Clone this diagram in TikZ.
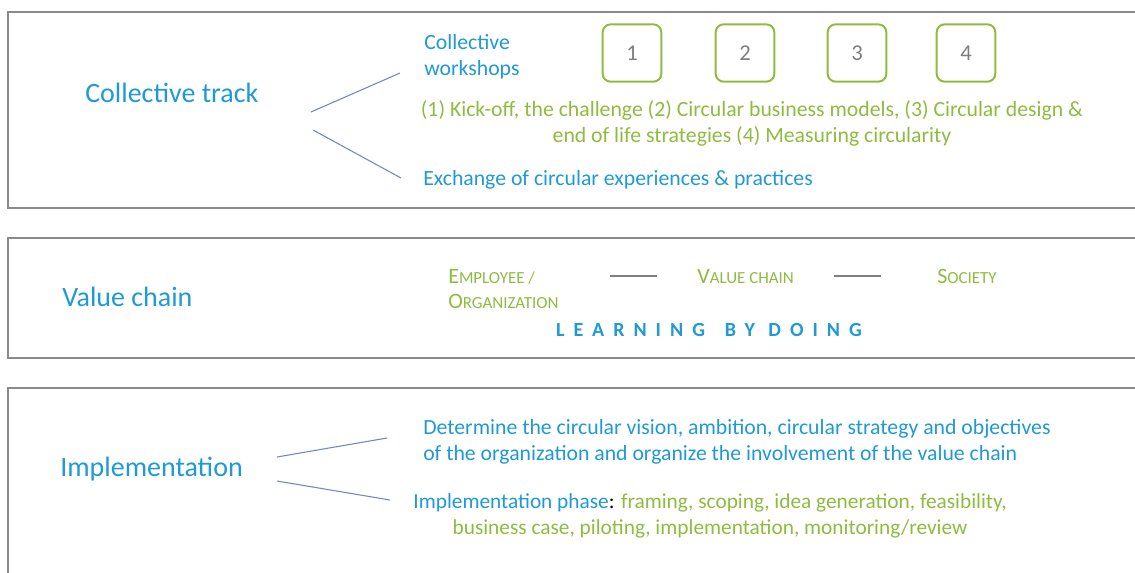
\documentclass[tikz,border=0pt]{standalone}
\usepackage{fontspec}
\setmainfont{Carlito}
\newfontfamily\spacedfont[LetterSpace=45]{Carlito}
\usepackage{xcolor}
\usetikzlibrary{positioning}

\definecolor{ctblue}{HTML}{1F9AD6}
\definecolor{ctgreen}{HTML}{8FBC3F}
\definecolor{ctgray}{HTML}{7F7F7F}
\definecolor{ctframe}{HTML}{8A8A8A}
\definecolor{ctline}{HTML}{7088C0}

% fake small caps: capital, then the rest smaller
\newcommand{\smcap}[2]{{\fontsize{16.5}{18.75}\selectfont #1}{\fontsize{12.7}{18.75}\selectfont #2}}

\begin{document}
\begin{tikzpicture}[x=0.75pt,y=-0.75pt,
    panel/.style={draw=ctframe,line width=1.5pt},
    title/.style={text=ctblue,font=\fontsize{21}{24}\selectfont,anchor=west,inner sep=0pt},
    body/.style={font=\fontsize{16.3}{19.5}\selectfont,inner sep=0pt},
    numbox/.style={draw=ctgreen,line width=1.5pt,rounded corners=6pt,
        minimum width=44pt,minimum height=43pt,text=ctgray,font=\fontsize{17}{20}\selectfont},
    chainlbl/.style={text=ctgreen,inner sep=0pt,font=\fontsize{12.7}{18.75}\selectfont},
    branch/.style={draw=ctline,line width=0.8pt},
    linkbar/.style={draw=ctgray,line width=1.5pt}]
	\clip (0,0) rectangle (1135,572);
	\fill[white] (0,0) rectangle (1135,572);

	% the three panels
	\draw[panel] (8,12) rectangle (1150,208);
	\draw[panel] (8,238) rectangle (1150,358);
	\draw[panel] (8,388) rectangle (1150,600);

	% collective track
	\node[title] (ct) at (85,93) {Collective track};
	\node[body,text=ctblue,align=left,anchor=west] (ws) at (424,57) {Collective\\workshops};
	\foreach \n/\x in {1/632,2/745,3/857,4/966} {
		\node[numbox] (w\n) at (\x,53) {\n};
	}
	\node[body,text=ctgreen,align=center] (wsdesc) at (752,123)
		{(1) Kick-off, the challenge (2) Circular business models, (3) Circular design \&\\end of life strategies (4) Measuring circularity};
	\node[body,text=ctblue,anchor=west] (ex) at (423,180) {Exchange of circular experiences \& practices};
	\coordinate (ct-up) at (311,112);
	\coordinate (ct-dn) at (313,130);
	\coordinate (ws-in) at (400,73);
	\coordinate (ex-in) at (401,178);
	\draw[branch] (ct-up) -- (ws-in);
	\draw[branch] (ct-dn) -- (ex-in);

	% value chain
	\node[title] (vc) at (62,297) {Value chain};
	\node[chainlbl,align=left,anchor=west] (eo) at (448,289) {\smcap{E}{MPLOYEE /}\\\smcap{O}{RGANIZATION}};
	\node[chainlbl,anchor=west] (vcn) at (697,276) {\smcap{V}{ALUE CHAIN}};
	\node[chainlbl,anchor=west] (soc) at (937,276) {\smcap{S}{OCIETY}};
	\draw[linkbar] ([xshift=-30pt]vcn.west) -- ([xshift=-65pt]vcn.west);
	\draw[linkbar] ([xshift=30pt]vcn.east) -- ([xshift=65pt]vcn.east);
	\node[text=ctblue,font=\spacedfont\bfseries\fontsize{15}{17}\selectfont] (lbd) at (709,330) {LEARNING\quad BY DOING};

	% implementation
	\node[title] (im) at (60,469) {Implementation};
	\node[body,text=ctblue,align=left,anchor=west] (vis) at (423,442)
		{Determine the circular vision, ambition, circular strategy and objectives\\of the organization and organize the involvement of the value chain};
	\node[body,align=center,font=\fontsize{16}{20}\selectfont] (ph) at (710,516)
		{\textcolor{ctblue}{Implementation phase}: \textcolor{ctgreen}{framing, scoping, idea generation, feasibility,}\\\textcolor{ctgreen}{business case, piloting, implementation, monitoring/review}};
	\coordinate (im-up) at (277,457);
	\coordinate (im-dn) at (277,481);
	\coordinate (vis-in) at (387,438);
	\coordinate (ph-in) at (390,500);
	\draw[branch] (im-up) -- (vis-in);
	\draw[branch] (im-dn) -- (ph-in);
\end{tikzpicture}
\end{document}
